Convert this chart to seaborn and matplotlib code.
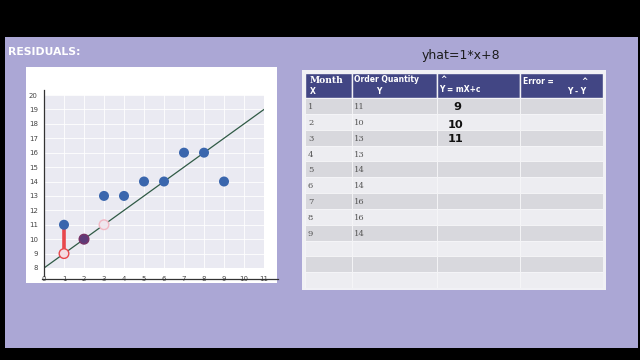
import matplotlib
matplotlib.use("Agg")
import matplotlib.pyplot as plt
import seaborn as sns
from matplotlib.patches import Rectangle

# ---------------- data ----------------
months = [1, 2, 3, 4, 5, 6, 7, 8, 9]
order_qty = [11, 10, 13, 13, 14, 14, 16, 16, 14]
pred_x = [1, 2, 3]
pred_y = [9, 10, 11]
line_x = [0, 11]
line_y = [8, 19]
x_ticks = [0, 1, 2, 3, 4, 5, 6, 7, 8, 9, 10, 11]
y_ticks = [8, 9, 10, 11, 12, 13, 14, 15, 16, 17, 18, 19, 20]

title_left = "RESIDUALS:"
title_right = "yhat=1*x+8"
table_month = ["1", "2", "3", "4", "5", "6", "7", "8", "9", "", "", ""]
table_qty = ["11", "10", "13", "13", "14", "14", "16", "16", "14", "", "", ""]
table_yhat = ["9", "10", "11"]

# ---------------- style ----------------
sns.set_theme(style="darkgrid")
plt.rcParams['font.family'] = ['DejaVu Sans']

W, H = 640, 360
fig = plt.figure(figsize=(6.4, 3.6), dpi=100, facecolor='black')


def fx(px):
    return px / W


def fy(py):
    return 1 - py / H


def frect(x0, y0, x1, y1, color, z):
    fig.add_artist(Rectangle((fx(x0), fy(y1)), (x1 - x0) / W, (y1 - y0) / H,
                             transform=fig.transFigure, facecolor=color,
                             edgecolor='none', zorder=z))


frect(5, 37, 638, 348, '#ABA7D5', -3)     # purple slide panel
frect(26, 67, 277, 283, '#FFFFFF', -2)    # white chart card
frect(302, 70, 606, 290, '#F1F1F5', -2)   # table card

fig.text(fx(8), fy(52), title_left, color='white', fontsize=7.8,
         fontweight='bold', va='center', ha='left')
fig.text(fx(461), fy(55), title_right, color='#1c1c1c', fontsize=9,
         va='center', ha='center')

# ---------------- chart ----------------
ax = fig.add_axes([fx(44), fy(268), 220 / W, 173 / H])
ax.set_facecolor('#EAEAF2')

sns.lineplot(x=line_x, y=line_y, color='#2f5a45', lw=0.9, ax=ax, zorder=2)
ax.vlines(months[0], pred_y[0], order_qty[0], color='#E8474C', lw=2.6, zorder=3)
sns.scatterplot(x=months, y=order_qty, s=52, color='#3A66AD',
                edgecolor='none', ax=ax, zorder=4)
ax.scatter(pred_x, pred_y, s=48,
           facecolors=['#F5DCE2', '#5D3A78', '#EFE6EE'],
           edgecolors=['#E8474C', '#7A3468', '#F2B8C4'],
           linewidths=1.0, zorder=5)

ax.set_xlim(0, 11)
ax.set_ylim(8, 20)
ax.set_xticks(x_ticks)
ax.set_yticks(y_ticks)
ax.grid(True, color='white', lw=0.6)
ax.set_xlabel('')
ax.set_ylabel('')

for s in ['top', 'right']:
    ax.spines[s].set_visible(False)
for s in ['left', 'bottom']:
    ax.spines[s].set_visible(True)
    ax.spines[s].set_color('#333333')
    ax.spines[s].set_linewidth(0.9)
ax.spines['bottom'].set_position(('outward', 8))
ax.spines['bottom'].set_bounds(-0.1, 11.7)
ax.spines['left'].set_bounds(7.44, 20.35)

ax.tick_params(axis='x', direction='inout', length=4, width=0.8,
               color='#333333', pad=-4.2, labelsize=5, labelcolor='#444444')
ax.tick_params(axis='y', length=0, pad=4.5, labelsize=5, labelcolor='#444444')

# ---------------- table ----------------
col_w = [47, 85, 83, 83]
header_h = 25
row_h = 190 / 12
tax = fig.add_axes([fx(305), fy(288), 298 / W, 215 / H])
tax.set_xlim(0, 298)
tax.set_ylim(215, 0)
tax.axis('off')

col_x = [0]
for w in col_w:
    col_x.append(col_x[-1] + w)

for c, w in enumerate(col_w):
    tax.add_patch(Rectangle((col_x[c], 0), w, header_h, facecolor='#424684',
                            edgecolor='#F1F1F5', lw=1.0))
    for r in range(12):
        color = '#D8D8DD' if r % 2 == 0 else '#EDEDF1'
        tax.add_patch(Rectangle((col_x[c], header_h + r * row_h), w, row_h,
                                facecolor=color, edgecolor='#F6F6F8', lw=0.6))

hdr_serif = dict(color='white', fontsize=6.6, fontweight='bold',
                 family='DejaVu Serif', va='center', ha='left')
hdr_sans = dict(color='white', fontsize=5.5, fontweight='bold',
                va='center', ha='left')
tax.text(5, 7.5, "Month", **hdr_serif)
tax.text(5, 18.5, "X", **hdr_sans)
tax.text(49, 6.5, "Order Quantity", **hdr_sans)
tax.text(71, 18.5, "Y", **hdr_sans)
tax.text(135, 6, "^", **hdr_sans)
tax.text(134, 16.5, "Y = mX+c", **hdr_sans)
tax.text(218, 8.5, "Error =", **hdr_sans)
tax.text(276, 8, "^", **hdr_sans)
tax.text(262, 19, "Y - Y", **hdr_sans)

for r in range(12):
    yc = header_h + (r + 0.5) * row_h + 1.2
    tax.text(3, yc, table_month[r], color='#555555', fontsize=6,
             family='DejaVu Serif', va='center', ha='left')
    tax.text(49, yc, table_qty[r], color='#555555', fontsize=6,
             family='DejaVu Serif', va='center', ha='left')

for r, v in enumerate(table_yhat):
    yc = header_h + (r + 0.5) * row_h + [1, 3.5, 1.5][r]
    tax.text(148 if len(v) == 1 else 143, yc, v, color='#111111', fontsize=8.2,
             fontweight='bold', va='center', ha='left')

fig.savefig('out.png', dpi=100, facecolor='black')
